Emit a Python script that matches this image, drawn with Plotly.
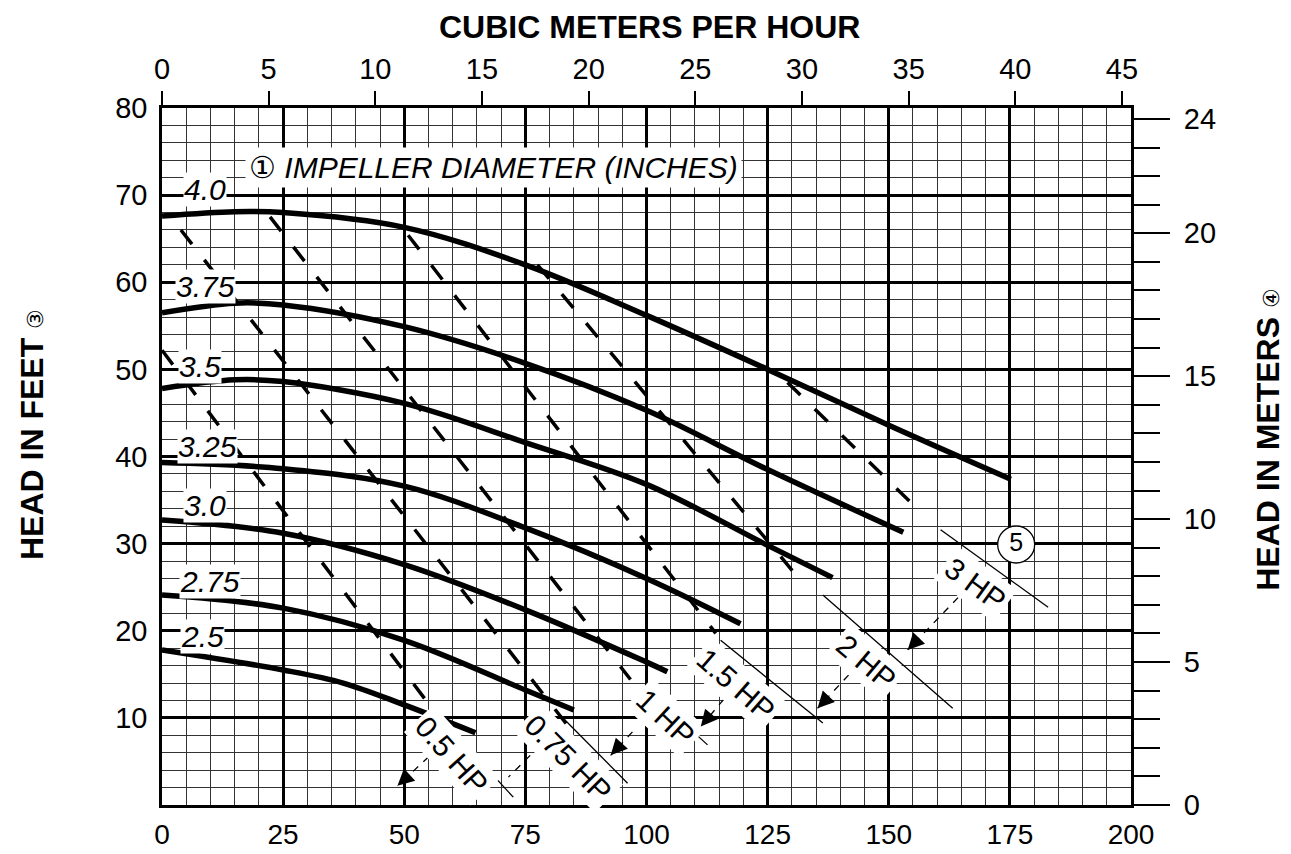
import plotly.graph_objects as go

FONT = "Liberation Sans, Arial, Helvetica, sans-serif"

# ---------------- data (GPM, feet) ----------------
imp_names = ["4.0", "3.75", "3.5", "3.25", "3.0", "2.75", "2.5"]
q_40 = [0, 15, 25, 50, 75, 100, 125, 150, 175.2]
h_40 = [67.6, 68.1, 68.0, 66.3, 62.0, 56.2, 50.0, 43.6, 37.4]
q_375 = [0, 15, 25, 50, 75, 100, 125, 153]
h_375 = [56.5, 57.6, 57.4, 54.9, 50.7, 45.3, 38.5, 31.3]
q_35 = [0, 15, 25, 50, 75, 100, 125, 138.4]
h_35 = [47.8, 48.8, 48.6, 46.1, 41.6, 36.8, 29.8, 26.1]
q_325 = [0, 25, 50, 75, 100, 119.4]
h_325 = [39.3, 38.6, 36.6, 31.8, 26.0, 20.8]
q_30 = [0, 25, 50, 75, 100, 104.3]
h_30 = [32.7, 31.2, 27.6, 22.4, 16.4, 15.3]
q_275 = [0, 25, 50, 75, 85]
h_275 = [24.1, 22.6, 18.9, 13.2, 10.9]
q_25 = [0, 25, 37.4, 50, 64.7]
h_25 = [17.8, 15.5, 14.0, 11.5, 8.3]
curves_q = [q_40, q_375, q_35, q_325, q_30, q_275, q_25]
curves_h = [h_40, h_375, h_35, h_325, h_30, h_275, h_25]

# curve label positions
imp_lab_q = [8.9, 8.9, 7.9, 9.3, 8.9, 9.9, 8.3]
imp_lab_h = [70.6, 59.5, 50.3, 41.1, 34.4, 25.6, 19.3]

# horsepower lines
hp_names = ["0.5 HP", "0.75 HP", "1 HP", "1.5 HP", "2 HP", "3 HP"]
hp_q0 = [0, 3.9, 22.3, 50.8, 77.5, 129.1]
hp_h0 = [52.2, 66.0, 67.5, 65.4, 62.0, 48.5]
hp_q1 = [56.8, 83.9, 96.7, 114.3, 132.2, 157.2]
hp_h1 = [10.3, 9.0, 14.4, 19.7, 25.5, 33.3]
# thin solid leader lines
thin_q0 = [57.5, 82.2, 100.8, 115.3, 136.4, 160.7]
thin_h0 = [10.0, 10.3, 12.9, 18.9, 24.1, 31.6]
thin_q1 = [72.5, 96.1, 112.6, 136.4, 163.2, 182.9]
thin_h1 = [0.9, 2.5, 6.9, 9.4, 11.1, 22.7]
# HP label placement
hp_lab_q = [59.9, 83.7, 103.9, 118.4, 145.5, 168.0]
hp_lab_h = [5.7, 5.4, 10.0, 13.8, 16.4, 25.3]
hp_angle = [48, 45, 43, 41, 40, 36]
# small dashed arrows
arr_q0 = [55.0, 76.0, 97.1, 115.9, 141.7, 164.3]
arr_h0 = [5.5, 5.7, 8.4, 12.1, 14.9, 23.8]
arr_q1 = [48.6, 71.5, 92.6, 111.2, 135.3, 153.9]
arr_h1 = [2.2, 3.2, 5.7, 9.0, 11.1, 17.8]

note5_q = [176.3]
note5_h = [29.9]

gpm_ticks = [0, 25, 50, 75, 100, 125, 150, 175, 200]
ft_ticks = [0, 10, 20, 30, 40, 50, 60, 70, 80]
m3h_ticks = [0, 5, 10, 15, 20, 25, 30, 35, 40, 45]
m_ticks = [0, 5, 10, 15, 20, 24]

GPM_MAX = 200
FT_MAX = 80
M3H_PER_GPM = 0.22712
M_PER_FT = 0.3048

fig = go.Figure()

# HP dashed lines
for i in range(len(hp_names)):
    fig.add_trace(go.Scatter(x=[hp_q0[i], hp_q1[i]], y=[hp_h0[i], hp_h1[i]], mode="lines",
                             line=dict(color="black", width=3.5, dash="18px,20px"),
                             hoverinfo="skip"))
    fig.add_trace(go.Scatter(x=[thin_q0[i], thin_q1[i]], y=[thin_h0[i], thin_h1[i]], mode="lines",
                             line=dict(color="black", width=1.3), hoverinfo="skip"))
    fig.add_trace(go.Scatter(x=[arr_q0[i], arr_q1[i]], y=[arr_h0[i], arr_h1[i]], mode="lines",
                             line=dict(color="black", width=1.3, dash="7px,7px"), hoverinfo="skip"))

# pump curves
for q, h in zip(curves_q, curves_h):
    fig.add_trace(go.Scatter(x=q, y=h, mode="lines",
                             line=dict(color="black", width=5.5, shape="spline", smoothing=1.0),
                             hoverinfo="skip"))

# note 5 marker
fig.add_trace(go.Scatter(x=note5_q, y=note5_h, mode="markers+text", text=["5"], textposition="middle center",
                         textfont=dict(family=FONT, size=25, color="black"),
                         marker=dict(symbol="circle", size=37, color="white", line=dict(color="black", width=1.3)),
                         hoverinfo="skip"))

# invisible trace for secondary axes
fig.add_trace(go.Scatter(x=[0, GPM_MAX * M3H_PER_GPM], y=[0, FT_MAX * M_PER_FT], xaxis="x2", yaxis="y2",
                         mode="markers", marker=dict(opacity=0), hoverinfo="skip"))

ann = []
for name, q, h in zip(imp_names, imp_lab_q, imp_lab_h):
    ann.append(dict(x=q, y=h, xref="x", yref="y", text="<i>" + name + "</i>", showarrow=False,
                    font=dict(family=FONT, size=30, color="black"), bgcolor="white", borderpad=0))
for i, name in enumerate(hp_names):
    ann.append(dict(x=hp_lab_q[i], y=hp_lab_h[i], xref="x", yref="y", text=name, showarrow=False,
                    textangle=hp_angle[i], font=dict(family=FONT, size=30, color="black"),
                    bgcolor="white", borderpad=3))
    ann.append(dict(x=arr_q1[i], y=arr_h1[i], xref="x", yref="y",
                    ax=arr_q1[i] + 0.2 * (arr_q0[i] - arr_q1[i]), ay=arr_h1[i] + 0.2 * (arr_h0[i] - arr_h1[i]),
                    axref="x", ayref="y", text="", showarrow=True, arrowhead=2, arrowsize=2.2,
                    arrowwidth=1.5, arrowcolor="black", standoff=0))

ann.append(dict(x=68.4, y=73.2, xref="x", yref="y",
                text="① <i>IMPELLER DIAMETER (INCHES)</i>", showarrow=False,
                font=dict(family=FONT, size=30, color="black"), bgcolor="white", borderpad=3))

ann.append(dict(x=0.5036, y=1.1155, xref="paper", yref="paper", xanchor="center", yanchor="middle",
                text="<b>CUBIC METERS PER HOUR</b>",
                showarrow=False, font=dict(family=FONT, size=32, color="black")))
ann.append(dict(x=-0.134, y=0.531, xref="paper", yref="paper", xanchor="center", yanchor="middle",
                text="<b>HEAD IN FEET</b> <span style='font-size:22px'>③</span>", textangle=-90,
                showarrow=False, font=dict(family=FONT, size=32, color="black")))
ann.append(dict(x=1.1414, y=0.524, xref="paper", yref="paper", xanchor="center", yanchor="middle",
                text="<b>HEAD IN METERS</b> <span style='font-size:22px'>④</span>", textangle=-90,
                showarrow=False, font=dict(family=FONT, size=32, color="black")))

# page body adds an 8px offset; figure sized so the plot area lands where the reference has it
fig.update_layout(
    width=1283, height=846,
    margin=dict(l=154, r=160, t=100, b=49),
    paper_bgcolor="white", plot_bgcolor="white",
    showlegend=False,
    font=dict(family=FONT, size=29, color="black"),
    annotations=ann,
    xaxis=dict(range=[0, GPM_MAX], tickmode="array", tickvals=gpm_ticks, automargin=False,
               showgrid=True, gridcolor="black", gridwidth=2.5,
               minor=dict(tickmode="linear", tick0=0, dtick=5, showgrid=True, gridcolor="#333333", gridwidth=1.3),
               showline=True, linecolor="black", linewidth=2.5, mirror=True,
               ticks="", zeroline=False, tickfont=dict(size=28), ticklabelstandoff=3),
    yaxis=dict(range=[0, FT_MAX], tickmode="array", tickvals=ft_ticks, automargin=False,
               ticktext=["" if v == 0 else str(v) for v in ft_ticks],
               showgrid=True, gridcolor="black", gridwidth=2.5,
               minor=dict(tickmode="linear", tick0=0, dtick=2, showgrid=True, gridcolor="#333333", gridwidth=1.3),
               showline=True, linecolor="black", linewidth=2.5, mirror=True,
               ticks="", zeroline=False, tickfont=dict(size=29), ticklabelstandoff=6),
    xaxis2=dict(overlaying="x", side="top", anchor="y2", range=[0, GPM_MAX * M3H_PER_GPM], automargin=False,
                tickmode="array", tickvals=m3h_ticks, ticks="outside", ticklen=16, tickwidth=2,
                tickcolor="black", showgrid=False, zeroline=False, showline=False,
                tickfont=dict(size=29)),
    yaxis2=dict(overlaying="y", side="right", anchor="x2", range=[0, FT_MAX * M_PER_FT], automargin=False,
                tickmode="array", tickvals=m_ticks, ticks="outside", ticklen=38, tickwidth=2,
                tickcolor="black", showgrid=False, zeroline=False, showline=False,
                minor=dict(tickmode="linear", tick0=0, dtick=1, ticks="outside", ticklen=28,
                           tickwidth=1.5, tickcolor="black"),
                tickfont=dict(size=29), ticklabelstandoff=8),
)

fig.write_html("out.html")
